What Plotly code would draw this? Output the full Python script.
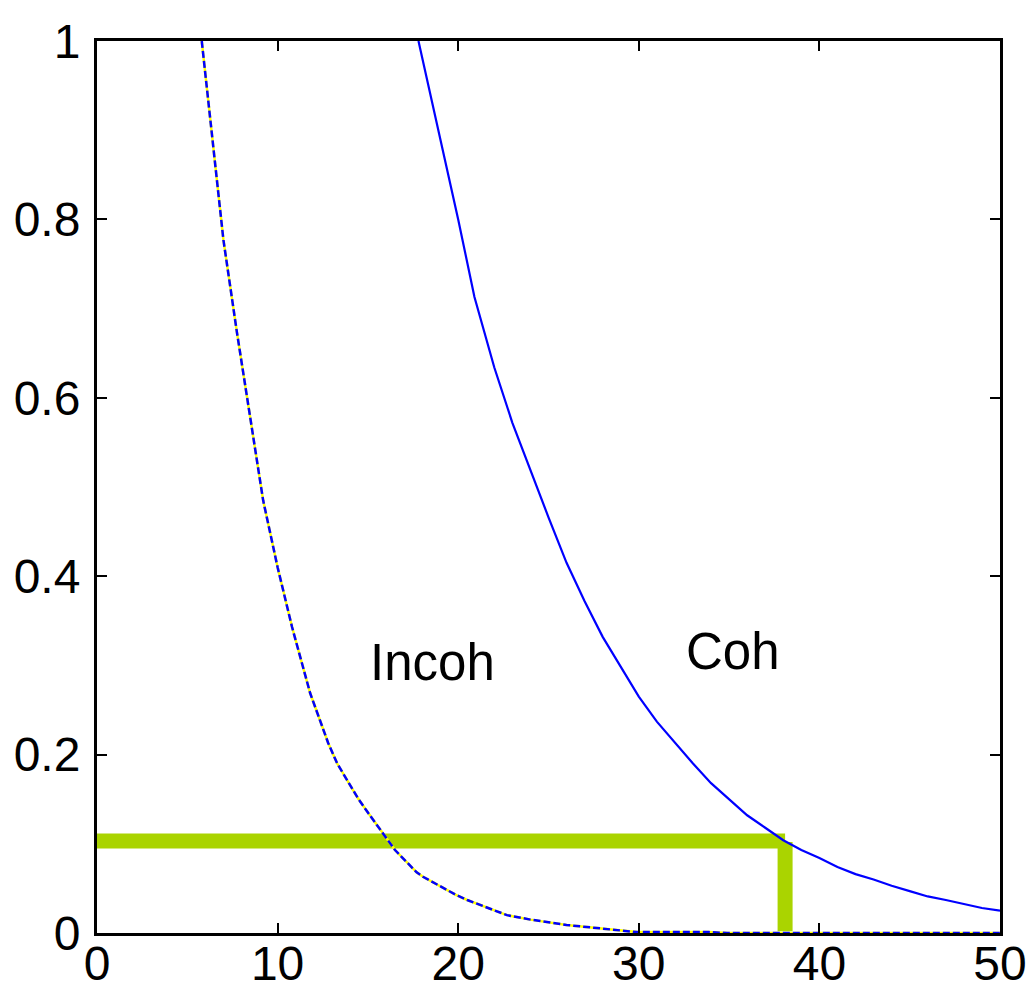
import plotly.graph_objects as go

# Coherent curve
coh_x = [17.8, 19, 20, 20.9, 22, 23, 24, 25, 26, 27, 28, 29, 30, 31, 32, 33, 34, 35, 36,
         37, 38, 39, 40, 41, 42, 43, 44, 45, 46, 47, 48, 49, 50]
coh_y = [1.0, 0.89, 0.80, 0.713, 0.634, 0.572, 0.518, 0.466, 0.415, 0.372, 0.332, 0.298,
         0.265, 0.237, 0.213, 0.19, 0.168, 0.15, 0.132, 0.118, 0.104, 0.093, 0.084, 0.074,
         0.066, 0.06, 0.053, 0.047, 0.041, 0.037, 0.0325, 0.028, 0.025]

# Incoherent curve
incoh_x = [5.8, 6.15, 7.0, 7.75, 8.5, 9.2, 10.0, 10.8, 11.8, 12.8, 13.3, 14.45, 15.0, 15.8,
           16.5, 17.7, 18.05, 19.9, 20.5, 22.7, 24, 26, 28.2, 29.9, 33.9, 34.9, 50]
incoh_y = [1.0, 0.934, 0.777, 0.673, 0.578, 0.485, 0.41, 0.343, 0.269, 0.213, 0.19, 0.151,
           0.135, 0.112, 0.093, 0.068, 0.063, 0.0425, 0.037, 0.02, 0.015, 0.009, 0.0045,
           0.001, 0.001, 0.0, 0.0]

# Threshold marker (green)
thr_h_x = [0, 38.1]
thr_h_y = [0.103, 0.103]
thr_v_x = [38.1, 38.1]
thr_v_y = [0.102, 0.002]

x_ticks = [0, 10, 20, 30, 40, 50]
y_ticks = [0, 0.2, 0.4, 0.6, 0.8, 1]
y_tick_text = ["0", "0.2", "0.4", "0.6", "0.8", "1"]

labels = ["Incoh", "Coh"]
label_x = [18.6, 35.2]
label_y = [0.303, 0.316]

fig = go.Figure()
fig.add_trace(go.Scatter(x=thr_h_x, y=thr_h_y, mode="lines",
                         line=dict(color="#AAD400", width=15), showlegend=False))
fig.add_trace(go.Scatter(x=thr_v_x, y=thr_v_y, mode="lines",
                         line=dict(color="#AAD400", width=15), showlegend=False))
fig.add_trace(go.Scatter(x=incoh_x, y=incoh_y, mode="lines",
                         line=dict(color="#FFFF00", width=2.5), showlegend=False))
fig.add_trace(go.Scatter(x=incoh_x, y=incoh_y, mode="lines",
                         line=dict(color="#0000FF", width=2.5, dash="7px,3px"), showlegend=False))
fig.add_trace(go.Scatter(x=coh_x, y=coh_y, mode="lines",
                         line=dict(color="#0000FF", width=2.2), showlegend=False))

for t, x, y in zip(labels, label_x, label_y):
    fig.add_annotation(x=x, y=y, text=t, showarrow=False,
                       font=dict(family="Liberation Sans, Arial", size=51, color="black"))

axis_common = dict(showgrid=False, zeroline=False, showline=True, linecolor="black",
                   linewidth=3, mirror="allticks", ticks="inside", ticklen=10, tickwidth=2,
                   tickcolor="black", automargin=False,
                   tickfont=dict(family="Liberation Sans, Arial", size=48, color="black"))

fig.update_xaxes(range=[0, 50], tickvals=x_ticks, ticktext=[str(v) for v in x_ticks],
                 ticklabelstandoff=-14, **axis_common)
fig.update_yaxes(range=[0, 1], tickvals=y_ticks, ticktext=y_tick_text,
                 ticklabelstandoff=4, **axis_common)

fig.update_layout(width=1034, height=990, margin=dict(l=89, r=42, t=33, b=65),
                  plot_bgcolor="white", paper_bgcolor="white")

fig.write_html("out.html")
